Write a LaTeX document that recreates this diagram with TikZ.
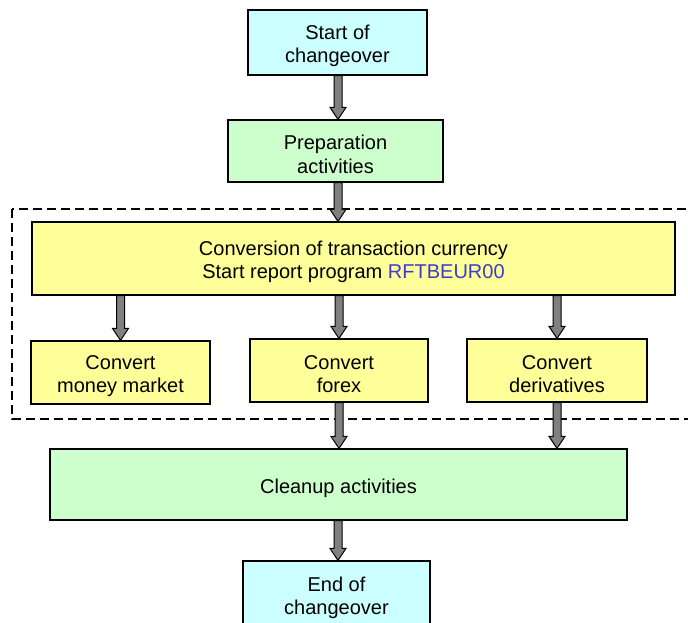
\documentclass[tikz,border=0pt]{standalone}
\usepackage{fontspec}
\setmainfont{Liberation Sans}
\usetikzlibrary{calc}
\definecolor{cyanbox}{HTML}{CCFFFF}
\definecolor{greenbox}{HTML}{CCFFCC}
\definecolor{yellowbox}{HTML}{FFFF99}
\definecolor{arrgray}{HTML}{808080}
\definecolor{progblue}{HTML}{3C3CCC}
\newcommand\toplift{\rule{0pt}{21.5pt}}
\tikzset{
  box/.style={draw=black, line width=1.2pt, align=center, inner sep=0pt,
    font=\fontsize{20}{23.5}\selectfont, text=black},
  grouprect/.style={draw=black, line width=1.5pt, dash pattern=on 9pt off 5pt},
  blockarr/.style={draw=black, fill=arrgray, line width=1pt, line join=miter}
}
\newcommand\blockarrow[2]{%
  \path[blockarr] let \p1=(#1), \p2=(#2) in
    (\x1-4pt,\y1) -- (\x1-4pt,\y2+12pt) -- (\x1-8pt,\y2+12pt) -- (\x1,\y2)
    -- (\x1+8pt,\y2+12pt) -- (\x1+4pt,\y2+12pt) -- (\x1+4pt,\y1) -- cycle;}
\begin{document}
\begin{tikzpicture}[x=1pt,y=-1pt]
\useasboundingbox (0,0) rectangle (688,622);
\clip (0,0) rectangle (688,622);
\fill[white] (0,0) rectangle (688,622);
% group
\draw[grouprect] (12,209) rectangle (720,419);
% boxes
\node[box, fill=cyanbox, minimum width=179pt, minimum height=65pt] (start) at (337.5,42.5) {\toplift Start of\\changeover};
\node[box, fill=greenbox, minimum width=215pt, minimum height=62pt] (prep) at (335.5,151) {\toplift Preparation\\activities};
\node[box, fill=yellowbox, minimum width=643pt, minimum height=73pt] (conv) at (353.5,258.5) {\toplift Conversion of transaction currency\\Start report program \textcolor{progblue}{RFTBEUR00}};
\node[box, fill=yellowbox, minimum width=179pt, minimum height=63pt] (money) at (120.5,372.5) {\toplift Convert\\money market};
\node[box, fill=yellowbox, minimum width=178pt, minimum height=63pt] (forex) at (339,370.5) {\toplift Convert\\forex};
\node[box, fill=yellowbox, minimum width=180pt, minimum height=63pt] (deriv) at (557,370.5) {\toplift Convert\\derivatives};
\node[box, fill=greenbox, minimum width=577pt, minimum height=71pt] (clean) at (338.5,484.5) {\toplift Cleanup activities};
\node[box, fill=cyanbox, minimum width=187pt, minimum height=67pt] (end) at (336.5,594.5) {\toplift End of\\changeover};
% arrows
\coordinate (a1s) at (start.south -| 338,0);
\coordinate (a1e) at (prep.north -| 338,0);
\blockarrow{a1s}{a1e}
\coordinate (a2s) at (prep.south -| 338,0);
\coordinate (a2e) at (conv.north -| 338,0);
\blockarrow{a2s}{a2e}
\blockarrow{conv.south -| money.north}{money.north}
\blockarrow{conv.south -| forex.north}{forex.north}
\blockarrow{conv.south -| deriv.north}{deriv.north}
\blockarrow{forex.south}{clean.north -| forex.south}
\blockarrow{deriv.south}{clean.north -| deriv.south}
\coordinate (a8s) at (clean.south -| 338,0);
\coordinate (a8e) at (end.north -| 338,0);
\blockarrow{a8s}{a8e}
\end{tikzpicture}
\end{document}
